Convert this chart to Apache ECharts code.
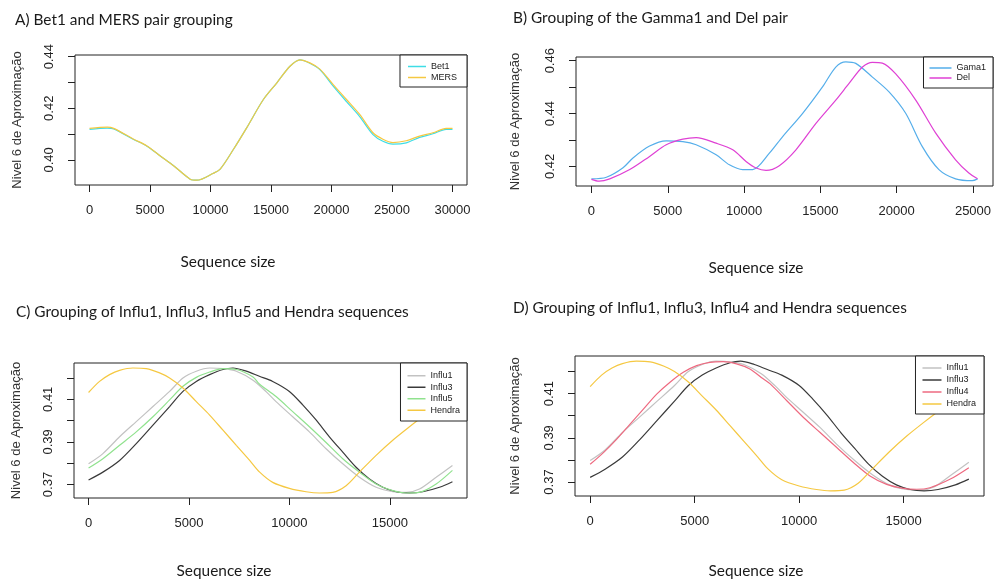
<!DOCTYPE html>
<html>
<head>
<meta charset="utf-8">
<script src="https://cdn.jsdelivr.net/npm/echarts@6/dist/echarts.min.js"></script>
<style>
  html, body { margin: 0; padding: 0; background: #fff; }
  #chart { width: 995px; height: 579px; }
</style>
</head>
<body>
<div id="chart"></div>
<script>
// ---- Panel A: Bet1 / MERS ----
const aX   = [0,1460,2000,3650,4750,5850,6950,8320,8870,10240,10800,11900,13000,14370,15470,16570,17390,18210,19040,20140,21240,22330,23430,24250,25080,26180,27280,28380,29480,30000];
const bet1 = [0.4118,0.4123,0.4120,0.4079,0.4053,0.4015,0.3977,0.3925,0.3921,0.3948,0.3964,0.4041,0.4125,0.4234,0.4298,0.4363,0.4388,0.4375,0.4350,0.4286,0.4226,0.4168,0.4098,0.4072,0.4061,0.4066,0.4087,0.4101,0.4118,0.4118];
const mers = [0.4122,0.4127,0.4122,0.4080,0.4054,0.4015,0.3977,0.3925,0.3921,0.3948,0.3964,0.4041,0.4125,0.4234,0.4298,0.4363,0.4388,0.4376,0.4352,0.4292,0.4234,0.4176,0.4105,0.4080,0.4067,0.4074,0.4092,0.4105,0.4122,0.4122];

// ---- Panel B: Gamma1 / Del ----
const gamaX = [0,980,2070,2720,3810,4900,5990,6860,8170,9040,9910,10570,11660,12530,13840,15140,16010,16670,17320,18410,19500,20590,21680,22770,23860,24950,25300];
const gama  = [0.4153,0.4159,0.4195,0.4232,0.4277,0.4297,0.4294,0.4282,0.4244,0.4206,0.4188,0.4188,0.4250,0.4313,0.4401,0.4501,0.4576,0.4596,0.4590,0.4538,0.4482,0.4401,0.4275,0.4188,0.4153,0.4146,0.4153];
const delX  = [0,500,1200,2510,3810,4900,5990,6860,8170,9260,10130,10790,11440,12310,13400,14710,16010,16880,17760,18410,19060,19940,21250,22560,23860,24730,25300];
const del   = [0.4151,0.4144,0.4153,0.4188,0.4238,0.4282,0.4303,0.4309,0.4288,0.4263,0.4219,0.4194,0.4185,0.4203,0.4263,0.4363,0.4451,0.4514,0.4576,0.4594,0.4591,0.4550,0.4451,0.4326,0.4225,0.4175,0.4153];

// ---- Panels C / D: influenza and Hendra sequences ----
const hendraX = [0,548,1046,1545,2209,2874,3538,4036,4701,5365,6029,6694,7358,8023,8521,9170,10000,10831,11495,12159,12824,13488,14319,15149,15980,16727,17500,18120];
const hendra  = [0.4132,0.4184,0.4216,0.4236,0.4247,0.4244,0.4224,0.4200,0.4153,0.4089,0.4026,0.3955,0.3884,0.3813,0.3758,0.3710,0.3682,0.3666,0.3660,0.3663,0.3694,0.3758,0.3837,0.3908,0.3971,0.4025,0.4075,0.4115];
const influ1X = [0,714,1545,2375,3206,4036,4701,5365,6029,6694,7358,8189,8853,9336,10166,10997,11827,12658,13488,14319,15149,15814,16478,17308,18120];
const influ1  = [0.3797,0.3845,0.3924,0.3995,0.4066,0.4137,0.4200,0.4232,0.4247,0.4244,0.4232,0.4190,0.4135,0.4089,0.4018,0.3947,0.3868,0.3797,0.3734,0.3687,0.3666,0.3663,0.3679,0.3734,0.3789];
const influ3X = [0,714,1545,2375,3206,4036,4701,5365,6029,6694,7192,7856,8505,9170,10000,10664,11329,11993,12658,13322,13986,14651,15315,15980,16644,17475,18120];
const influ3  = [0.3721,0.3758,0.3813,0.3892,0.3979,0.4066,0.4137,0.4184,0.4216,0.4240,0.4247,0.4232,0.4208,0.4184,0.4137,0.4074,0.4003,0.3924,0.3852,0.3781,0.3726,0.3687,0.3666,0.3660,0.3666,0.3687,0.3713];
const influ5X = [0,714,1545,2375,3206,4036,4701,5365,6029,6694,7358,8189,8505,9336,10166,10997,11827,12658,13488,14319,15149,15814,16478,17308,18120];
const influ5  = [0.3777,0.3821,0.3884,0.3947,0.4018,0.4097,0.4161,0.4203,0.4228,0.4244,0.4240,0.4205,0.4172,0.4113,0.4042,0.3971,0.3897,0.3821,0.3758,0.3702,0.3671,0.3660,0.3663,0.3702,0.3766];
const influ4X = [0,637,1274,1910,2547,3184,3821,4458,5094,5731,6368,7005,7642,8278,8615,9411,10207,11003,11799,12595,13391,14187,14983,15620,16256,17211,18120];
const influ4  = [0.3780,0.3833,0.3894,0.3962,0.4030,0.4098,0.4152,0.4197,0.4227,0.4242,0.4245,0.4235,0.4212,0.4167,0.4144,0.4068,0.3992,0.3924,0.3856,0.3788,0.3727,0.3689,0.3671,0.3667,0.3674,0.3712,0.3765];

// ---- tick positions and labelled ticks ----
const aXTicks  = [0,5000,10000,15000,20000,25000,30000];
const bXTicks  = [0,5000,10000,15000,20000,25000];
const cdXTicks = [0,5000,10000,15000];
const aYTicks  = [0.40,0.41,0.42,0.43,0.44];
const aYLabels = [0.40,0.42,0.44];
const bYTicks  = [0.42,0.43,0.44,0.45,0.46];
const bYLabels = [0.42,0.44,0.46];
const cdYTicks  = [0.37,0.38,0.39,0.40,0.41,0.42];
const cdYLabels = [0.37,0.39,0.41];

// ---- text ----
const panelTitles = [
  'A) Bet1 and MERS pair grouping',
  'B) Grouping of the Gamma1 and Del pair',
  'C) Grouping of Influ1, Influ3, Influ5 and Hendra sequences',
  'D) Grouping of Influ1, Influ3, Influ4 and Hendra sequences'
];
const xTitle = 'Sequence size';
const yTitle = 'Nivel 6 de Aproximação';

const zip = (xs, ys) => xs.map((x, i) => [x, ys[i]]);
// R-style axis limits: data range widened by 4% on each side
function rlim(arrays) {
  const all = [].concat(...arrays);
  const lo = Math.min(...all), hi = Math.max(...all);
  const pad = (hi - lo) * 0.04;
  return [lo - pad, hi + pad];
}

const RFONT = 'Liberation Sans, Arial, sans-serif';
const DOCFONT = 'Lato, Noto Sans, sans-serif';
const DOCSIZE = '15.4px ';
const INK = '#222';

const grids = [
  { left: 75,  top: 55,  width: 392, height: 130 },
  { left: 576, top: 57,  width: 417, height: 129 },
  { left: 74,  top: 363, width: 393, height: 135 },
  { left: 575, top: 356, width: 409, height: 140 }
].map(g => Object.assign(g, { show: true, borderColor: INK, borderWidth: 1, backgroundColor: 'transparent' }));

function xAxisDef(gi, xs, ticks) {
  const [lo, hi] = rlim(xs);
  return {
    type: 'value', gridIndex: gi, min: lo, max: hi,
    axisLine: { show: false, onZero: false }, splitLine: { show: false },
    axisTick: { show: true, inside: false, length: 7, lineStyle: { color: INK, width: 1 }, customValues: ticks },
    axisLabel: { show: true, margin: 19, color: INK, fontFamily: RFONT, fontSize: 13, customValues: ticks,
                 formatter: v => String(Math.round(v)) }
  };
}
function yAxisDef(gi, ys, ticks, labels, nameGap) {
  const [lo, hi] = rlim(ys);
  return {
    type: 'value', gridIndex: gi, min: lo, max: hi,
    name: yTitle, nameLocation: 'middle', nameGap: nameGap, nameRotate: 90,
    nameTextStyle: { fontFamily: RFONT, fontSize: 13, color: '#333' },
    axisLine: { show: false, onZero: false }, splitLine: { show: false },
    axisTick: { show: true, inside: false, length: 7, lineStyle: { color: INK, width: 1 }, customValues: ticks },
    axisLabel: { show: true, rotate: 90, margin: 19, color: INK, fontFamily: RFONT, fontSize: 13, customValues: labels,
                 formatter: v => v.toFixed(2) }
  };
}

function line(name, gi, xs, ys, color) {
  return {
    name, type: 'line', xAxisIndex: gi, yAxisIndex: gi,
    data: zip(xs, ys), showSymbol: false, smooth: 0.3, animation: false,
    lineStyle: { color, width: 1.2 }, itemStyle: { color }
  };
}

const C = {
  bet1: '#3fdde6', mers: '#f5c842',
  gama: '#55aeea', del: '#df40d4',
  influ1: '#c2c2c2', influ3: '#3a3a3a', influ5: '#90e28e', influ4: '#ee6a80', hendra: '#f5c842'
};

const legendBase = {
  orient: 'vertical', icon: 'rect', itemHeight: 1.5,
  backgroundColor: '#fff', borderColor: INK, borderWidth: 1,
  textStyle: { fontFamily: RFONT, fontSize: 9, color: INK }
};

const option = {
  backgroundColor: '#fff',
  animation: false,
  grid: grids,
  xAxis: [
    xAxisDef(0, [aX], aXTicks),
    xAxisDef(1, [gamaX, delX], bXTicks),
    xAxisDef(2, [hendraX, influ1X, influ3X, influ5X], cdXTicks),
    xAxisDef(3, [hendraX, influ1X, influ3X, influ4X], cdXTicks)
  ],
  yAxis: [
    yAxisDef(0, [bet1, mers], aYTicks, aYLabels, 51),
    yAxisDef(1, [gama, del], bYTicks, bYLabels, 54),
    yAxisDef(2, [hendra, influ1, influ3, influ5], cdYTicks, cdYLabels, 51),
    yAxisDef(3, [hendra, influ1, influ3, influ4], cdYTicks, cdYLabels, 53)
  ],
  legend: [
    Object.assign({}, legendBase, { data: ['Bet1', 'MERS'], right: 995 - 467, top: 55,
      itemWidth: 18, itemGap: 0, itemTextGap: 8, padding: [6, 10, 4, 8],
      textStyle: Object.assign({}, legendBase.textStyle, { lineHeight: 11 }) }),
    Object.assign({}, legendBase, { data: ['Gama1', 'Del'], right: 995 - 993, top: 57,
      itemWidth: 22, itemGap: 0, itemTextGap: 9, padding: [6, 7, 5, 6],
      textStyle: Object.assign({}, legendBase.textStyle, { lineHeight: 10 }) }),
    Object.assign({}, legendBase, { data: ['Influ1', 'Influ3', 'Influ5', 'Hendra'], right: 995 - 467, top: 363,
      itemWidth: 18, itemGap: 0, itemTextGap: 8, padding: [7, 7, 5, 7],
      textStyle: Object.assign({}, legendBase.textStyle, { lineHeight: 11.5 }) }),
    Object.assign({}, legendBase, { data: ['Influ1 ', 'Influ3 ', 'Influ4', 'Hendra '], right: 995 - 984, top: 356,
      itemWidth: 19, itemGap: 0, itemTextGap: 8, padding: [6, 8, 4, 7],
      formatter: n => n.trim(),
      textStyle: Object.assign({}, legendBase.textStyle, { lineHeight: 12 }) })
  ],
  series: [
    line('Bet1', 0, aX, bet1, C.bet1),
    line('MERS', 0, aX, mers, C.mers),
    line('Gama1', 1, gamaX, gama, C.gama),
    line('Del', 1, delX, del, C.del),
    line('Influ1', 2, influ1X, influ1, C.influ1),
    line('Influ3', 2, influ3X, influ3, C.influ3),
    line('Influ5', 2, influ5X, influ5, C.influ5),
    line('Hendra', 2, hendraX, hendra, C.hendra),
    line('Influ1 ', 3, influ1X, influ1, C.influ1),
    line('Influ3 ', 3, influ3X, influ3, C.influ3),
    line('Influ4', 3, influ4X, influ4, C.influ4),
    line('Hendra ', 3, hendraX, hendra, C.hendra)
  ],
  graphic: [
    { type: 'text', left: 15,  top: 13,  style: { text: panelTitles[0], font: DOCSIZE + DOCFONT, fill: '#1a1a1a' } },
    { type: 'text', left: 513, top: 11,  style: { text: panelTitles[1], font: DOCSIZE + DOCFONT, fill: '#1a1a1a' } },
    { type: 'text', left: 16,  top: 305, style: { text: panelTitles[2], font: DOCSIZE + DOCFONT, fill: '#1a1a1a' } },
    { type: 'text', left: 513, top: 301, style: { text: panelTitles[3], font: DOCSIZE + DOCFONT, fill: '#1a1a1a' } },
    { type: 'text', x: 228, y: 262, style: { text: xTitle, font: DOCSIZE + DOCFONT, fill: '#1a1a1a', align: 'center', verticalAlign: 'middle' } },
    { type: 'text', x: 756, y: 268, style: { text: xTitle, font: DOCSIZE + DOCFONT, fill: '#1a1a1a', align: 'center', verticalAlign: 'middle' } },
    { type: 'text', x: 224, y: 571, style: { text: xTitle, font: DOCSIZE + DOCFONT, fill: '#1a1a1a', align: 'center', verticalAlign: 'middle' } },
    { type: 'text', x: 756, y: 571, style: { text: xTitle, font: DOCSIZE + DOCFONT, fill: '#1a1a1a', align: 'center', verticalAlign: 'middle' } }
  ]
};

const chart = echarts.init(document.getElementById('chart'), null, { renderer: 'canvas' });
chart.setOption(option);
</script>
</body>
</html>
